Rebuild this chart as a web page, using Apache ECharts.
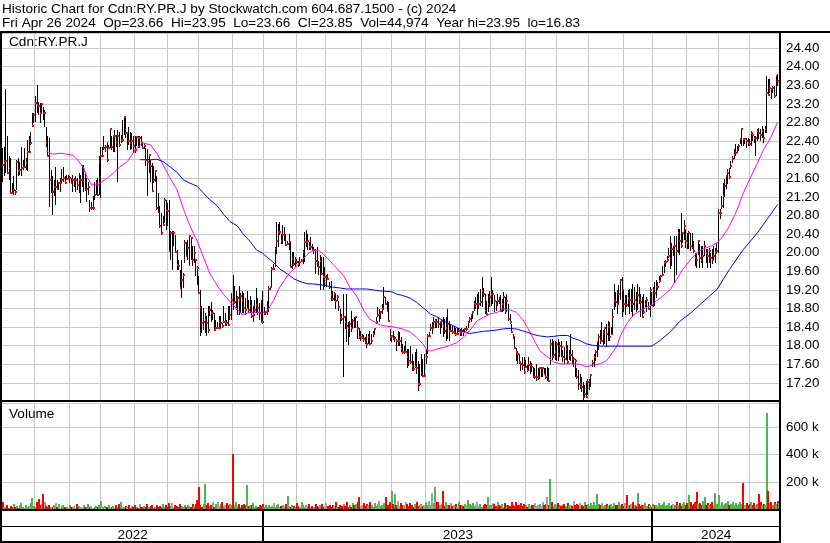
<!DOCTYPE html>
<html><head><meta charset="utf-8">
<script src="https://cdn.jsdelivr.net/npm/echarts@6.0.0/dist/echarts.min.js"></script>
<style>html,body{margin:0;padding:0;background:#fff}#c{width:830px;height:543px}</style>
</head><body><div id="c"></div>
<script>
// ---- data ----
const highs=[
22.25,22.28,23.52,22.50,22.07,22.03,21.49,21.64,21.35,22.00,
22.03,21.96,22.28,22.00,22.25,22.03,22.43,22.50,22.60,23.00,
23.00,23.36,23.61,23.25,23.21,23.21,23.14,23.07,22.71,22.50,
22.46,21.78,21.64,21.57,21.85,21.57,21.53,21.60,21.81,21.85,
21.64,21.67,21.67,21.64,21.60,21.67,21.60,21.64,21.60,21.71,
21.67,21.89,21.89,21.71,21.60,21.53,21.14,21.10,21.21,21.53,
21.57,21.60,22.07,22.28,22.28,22.50,22.32,22.39,22.32,22.68,
22.50,22.50,22.64,22.53,22.64,22.60,22.53,22.86,22.93,22.89,
22.60,22.71,22.60,22.57,22.50,22.50,22.50,22.50,22.50,22.50,
22.36,22.36,22.25,22.22,22.11,22.00,21.93,21.86,21.78,21.64,
21.28,21.00,20.85,20.78,21.18,21.14,21.07,21.14,20.46,20.46,
20.46,20.39,20.06,19.85,19.63,19.85,19.56,20.28,20.24,20.28,
20.35,20.32,20.14,20.14,19.85,19.71,19.49,19.20,18.85,18.81,
18.70,18.63,18.85,18.85,18.95,18.77,18.70,18.56,18.52,18.63,
18.63,18.49,18.85,18.70,18.56,18.85,18.85,19.13,19.53,19.28,
19.17,19.06,19.28,19.13,19.17,19.13,19.03,19.17,18.99,19.06,
18.99,18.85,18.99,19.24,19.03,18.92,18.99,19.18,18.83,18.75,
18.97,19.29,19.29,19.69,19.76,20.12,20.66,20.62,20.66,20.41,
20.59,20.55,20.41,20.26,20.41,20.22,20.01,20.01,19.90,19.87,
19.83,19.90,19.87,20.05,20.44,20.48,20.41,20.23,20.33,20.19,
20.12,20.09,20.12,19.83,19.94,19.90,19.90,19.69,19.51,19.54,
19.37,19.40,19.18,19.15,19.11,19.08,18.97,18.79,18.68,19.11,
18.64,19.11,18.50,18.54,18.75,18.57,18.61,18.64,18.54,18.39,
18.32,18.25,18.22,18.18,18.25,18.25,18.32,18.25,18.32,18.39,
18.61,18.83,18.79,18.75,18.90,19.26,19.04,18.97,18.94,18.36,
18.22,18.32,18.21,18.14,18.32,18.29,18.18,18.04,18.00,18.11,
17.93,17.93,18.00,17.82,17.68,17.86,17.93,17.68,17.60,17.82,
17.72,17.82,17.93,18.25,18.29,18.47,18.50,18.61,18.57,18.57,
18.61,18.54,18.57,18.61,18.57,18.61,18.79,18.54,18.47,18.43,
18.43,18.39,18.39,18.39,18.36,18.39,18.36,18.39,18.43,18.54,
18.61,18.68,18.75,18.97,19.04,19.11,19.15,19.22,19.47,19.25,
19.11,18.97,19.11,19.18,19.47,19.20,19.08,18.97,19.11,19.04,
19.08,19.00,19.15,19.04,19.11,18.90,18.68,18.47,18.25,18.18,
17.96,17.89,17.82,17.60,17.76,17.76,17.69,17.58,17.76,17.68,
17.62,17.54,17.51,17.61,17.51,17.54,17.51,17.54,17.51,17.51,
17.54,17.51,18.15,18.15,18.11,18.11,18.08,18.15,18.08,18.11,
17.90,17.97,18.11,18.01,17.90,18.26,17.90,17.76,17.72,17.51,
17.47,17.40,17.32,17.22,17.15,17.25,17.29,17.29,17.40,17.69,
17.83,17.90,18.11,18.26,18.33,18.50,18.33,18.37,18.47,18.54,
18.50,18.40,18.79,19.33,19.16,19.19,19.30,19.44,19.48,19.19,
19.08,19.08,19.19,19.23,19.23,19.33,19.26,19.16,19.33,19.26,
19.12,19.05,19.12,18.98,19.05,18.94,19.26,19.16,19.26,19.37,
19.42,19.37,19.49,19.53,19.71,19.82,19.85,19.92,20.11,20.36,
20.21,20.14,20.36,20.36,20.50,20.50,20.86,20.43,20.71,20.50,
20.43,20.47,20.43,20.43,20.25,20.00,20.00,20.25,20.18,20.14,
20.14,20.25,20.07,20.07,20.11,20.00,20.07,20.14,20.11,20.21,
20.93,20.93,21.21,21.50,21.58,21.68,21.79,21.83,21.97,22.08,
22.22,22.33,22.29,22.33,22.47,22.69,22.47,22.47,22.47,22.47,
22.44,22.62,22.58,22.51,22.51,22.65,22.69,22.65,22.72,22.65,
22.72,23.80,23.73,23.73,23.55,23.59,23.59,23.80,23.84,23.95];
const lows=[
21.53,21.64,21.71,21.71,21.57,21.28,21.28,21.24,21.24,21.35,
21.64,21.67,21.64,21.78,21.82,21.78,21.75,22.17,22.32,22.73,
22.78,22.82,23.00,22.96,22.78,23.00,22.86,22.71,22.28,22.07,
20.99,21.28,20.81,21.21,21.03,21.35,21.35,21.31,21.49,21.53,
21.49,21.57,21.57,21.49,21.49,21.31,21.42,21.31,21.35,21.28,
21.06,21.42,21.31,21.35,21.10,21.24,20.88,20.92,20.92,21.14,
21.24,21.21,21.24,21.17,22.07,22.21,22.17,21.96,22.25,22.25,
22.21,22.17,22.17,22.28,21.53,22.28,22.35,22.39,22.53,22.46,
22.21,22.32,22.21,22.22,22.14,22.14,22.29,22.25,22.25,22.29,
22.22,22.22,21.86,21.21,21.71,21.53,21.32,21.50,21.53,20.92,
20.85,20.53,20.39,20.57,20.64,20.49,20.57,20.03,19.85,19.63,
20.14,19.99,19.63,19.63,19.24,19.03,19.24,19.78,19.92,19.85,
19.71,19.85,19.71,19.78,19.49,19.31,19.13,18.20,18.27,18.34,
18.27,18.20,18.27,18.63,18.52,18.56,18.34,18.38,18.38,18.38,
18.38,18.38,18.52,18.42,18.42,18.45,18.56,18.56,18.77,18.92,
18.77,18.67,18.67,18.70,18.70,18.70,18.67,18.81,18.70,18.70,
18.59,18.52,18.70,18.70,18.67,18.56,18.52,18.47,18.65,18.65,
18.65,18.72,19.20,19.29,19.62,19.69,19.98,20.12,20.38,20.19,
20.19,20.26,20.16,20.16,20.05,19.69,19.66,19.72,19.69,19.76,
19.69,19.72,19.80,19.76,19.80,20.12,20.05,20.05,20.05,20.05,
19.98,19.54,19.69,19.51,19.19,19.51,19.19,19.26,19.26,19.44,
19.22,18.97,18.97,18.97,18.80,18.97,18.75,18.47,18.54,17.32,
18.36,18.08,18.01,18.18,18.30,18.39,18.39,18.39,18.15,18.15,
18.11,18.15,18.08,18.04,17.96,18.04,18.04,18.04,18.18,18.25,
18.47,18.61,18.50,18.57,18.68,18.79,18.90,18.72,18.50,18.11,
18.08,18.14,18.07,17.89,18.00,18.00,17.86,17.82,17.82,17.86,
17.53,17.57,17.60,17.46,17.46,17.53,17.39,17.03,17.14,17.35,
17.32,17.32,17.60,17.82,18.18,18.32,18.25,18.39,18.39,18.39,
18.39,18.25,18.39,18.18,18.25,18.11,18.14,18.11,18.29,18.25,
18.25,18.21,18.25,18.29,18.21,18.21,18.21,18.29,18.32,18.39,
18.50,18.50,18.57,18.75,18.79,18.65,18.79,18.86,18.83,19.04,
18.68,18.68,18.72,18.83,18.86,18.90,18.72,18.75,18.86,18.90,
18.72,18.72,18.75,18.68,18.75,18.54,18.47,18.29,18.14,17.93,
17.68,17.60,17.60,17.46,17.47,17.40,17.54,17.43,17.47,17.40,
17.43,17.33,17.29,17.25,17.27,17.29,17.33,17.33,17.40,17.29,
17.25,17.22,17.58,17.69,17.76,17.69,17.68,17.68,17.76,17.76,
17.66,17.61,17.69,17.61,17.69,17.68,17.61,17.54,17.32,17.29,
17.04,17.07,17.01,16.83,16.90,16.88,16.93,17.04,17.11,17.54,
17.54,17.68,17.76,17.90,18.04,18.08,18.01,18.04,17.97,18.11,
18.11,18.25,18.26,18.77,18.83,18.69,18.90,18.98,18.62,18.73,
18.66,18.83,18.83,18.69,18.73,18.62,18.77,18.73,18.77,18.90,
18.62,18.62,18.69,18.83,18.73,18.77,18.62,18.87,18.84,18.85,
19.03,19.20,19.35,19.42,19.49,19.57,19.69,19.80,19.89,19.64,
19.71,19.92,19.35,19.52,20.00,19.94,20.11,20.21,20.28,20.11,
20.07,20.07,20.04,20.07,20.00,19.71,19.68,19.94,19.68,19.78,
19.68,19.92,19.78,19.68,19.78,19.68,19.75,19.85,19.78,20.00,
20.00,20.72,20.93,20.96,21.20,21.36,21.47,21.58,21.79,21.93,
22.01,22.08,22.15,22.19,22.33,22.29,22.29,22.33,22.26,22.29,
22.29,22.29,22.40,22.37,22.08,22.40,22.44,22.40,22.47,22.37,
22.58,22.58,23.37,23.44,23.30,23.44,23.33,23.37,23.59,23.66];
const closes=[
21.89,21.92,21.98,21.72,21.82,21.29,21.28,21.35,21.30,21.96,
21.75,21.77,21.82,21.84,21.84,21.92,22.17,22.17,22.35,22.73,
22.96,23.21,23.18,23.16,23.00,23.19,23.00,23.00,22.35,22.08,
21.57,21.57,21.31,21.42,21.42,21.38,21.49,21.49,21.57,21.60,
21.50,21.59,21.59,21.60,21.50,21.57,21.57,21.57,21.46,21.57,
21.57,21.57,21.75,21.35,21.38,21.41,20.96,20.96,20.96,21.24,
21.49,21.24,21.96,22.07,22.07,22.25,22.28,21.99,22.25,22.66,
22.28,22.50,22.50,22.39,22.50,22.32,22.43,22.43,22.91,22.57,
22.57,22.40,22.39,22.40,22.30,22.20,22.49,22.47,22.47,22.36,
22.25,22.29,22.00,21.96,22.11,21.86,21.32,21.57,21.75,20.96,
20.87,20.57,20.42,20.60,21.14,20.92,20.89,20.03,20.42,20.42,
20.42,20.01,19.74,19.71,19.24,19.42,19.53,20.21,19.92,20.10,
20.35,20.32,19.85,19.99,19.85,19.67,19.13,18.81,18.49,18.52,
18.56,18.49,18.34,18.77,18.70,18.70,18.34,18.38,18.38,18.38,
18.49,18.42,18.52,18.52,18.49,18.45,18.67,18.99,18.92,18.95,
18.99,19.03,18.99,19.06,18.99,18.81,18.77,18.81,18.77,18.85,
18.63,18.67,18.77,18.88,18.81,18.70,18.52,18.50,18.68,18.72,
18.75,19.22,19.26,19.66,19.66,20.09,20.26,20.45,20.45,20.26,
20.38,20.38,20.16,20.19,20.22,19.69,19.86,19.76,19.83,19.80,
19.76,19.80,19.83,20.02,20.23,20.23,20.26,20.12,20.12,20.05,
20.05,19.83,19.80,19.69,19.83,19.55,19.47,19.47,19.47,19.44,
19.26,19.08,19.01,19.11,18.97,19.04,18.83,18.61,18.57,18.61,
18.50,18.43,18.39,18.47,18.39,18.54,18.50,18.61,18.39,18.18,
18.18,18.18,18.15,18.08,18.04,18.18,18.04,18.11,18.25,18.36,
18.50,18.65,18.65,18.72,18.79,19.04,18.90,18.75,18.54,18.18,
18.20,18.14,18.16,18.11,18.11,18.11,17.93,17.86,17.86,17.86,
17.75,17.68,17.64,17.57,17.50,17.57,17.53,17.17,17.17,17.42,
17.35,17.35,17.75,18.21,18.21,18.39,18.39,18.50,18.54,18.50,
18.47,18.50,18.54,18.43,18.32,18.39,18.47,18.32,18.32,18.29,
18.29,18.25,18.25,18.32,18.29,18.32,18.29,18.36,18.36,18.50,
18.57,18.65,18.72,18.90,18.90,18.90,18.90,18.93,19.18,19.11,
18.75,18.68,18.90,19.04,19.11,19.11,18.97,18.90,18.97,18.93,
18.75,18.90,19.04,18.75,18.97,18.57,18.50,18.29,18.18,17.96,
17.86,17.82,17.64,17.60,17.58,17.43,17.54,17.47,17.58,17.58,
17.54,17.33,17.33,17.33,17.33,17.51,17.51,17.51,17.40,17.33,
17.33,17.25,18.04,17.76,17.79,17.86,18.04,17.83,18.00,17.97,
17.76,17.72,17.93,17.65,17.79,17.79,17.72,17.72,17.68,17.33,
17.18,17.18,17.11,16.90,16.97,16.90,17.22,17.25,17.36,17.62,
17.76,17.86,18.08,18.19,18.11,18.11,18.30,18.37,18.26,18.40,
18.19,18.25,18.62,18.98,18.94,18.90,19.12,19.41,19.19,18.90,
18.90,18.87,19.03,18.98,18.98,18.90,18.98,18.94,19.09,19.01,
18.93,18.62,18.73,18.90,18.98,18.80,19.19,18.87,19.20,19.13,
19.26,19.26,19.39,19.49,19.53,19.78,19.80,19.85,19.92,20.14,
20.07,20.07,20.14,20.04,20.43,20.25,20.14,20.43,20.57,20.25,
20.21,20.43,20.14,20.11,20.04,19.89,19.85,20.25,19.89,19.85,
19.92,20.14,20.00,19.92,20.04,19.89,19.85,19.92,20.00,20.04,
20.86,20.86,21.00,21.21,21.43,21.65,21.72,21.62,21.86,22.01,
22.11,22.15,22.22,22.29,22.44,22.65,22.44,22.44,22.40,22.37,
22.33,22.58,22.54,22.47,22.47,22.62,22.58,22.54,22.62,22.47,
22.65,23.44,23.40,23.55,23.51,23.55,23.37,23.80,23.70,23.85];
// volume in thousands of shares
const volumesK=[
49,18,12,30,10,22,15,36,14,20, 11,26,42,16,10,32,14,20,44,84,
24,15,50,77,30,40,112,55,22,14, 32,18,12,26,44,15,38,11,20,28,
12,18,10,30,16,14,24,8,35,20, 15,11,26,14,18,34,12,22,10,16,
20,14,30,58,18,12,25,15,32,11, 14,20,10,26,15,36,52,18,12,22,
16,30,11,20,14,26,18,10,34,15, 12,22,16,38,14,20,28,11,18,30,
15,24,12,34,18,26,14,42,20,45, 16,30,20,12,38,22,14,28,18,32,
24,15,40,20,35,65,163,30,18,36, 184,26,42,22,32,55,18,40,50,24,
34,48,20,30,42,26,38,30,407,32, 50,24,40,18,30,34,26,177,20,26,
32,45,18,24,14,30,20,36,15,26, 18,32,12,22,42,16,26,34,14,20,
30,20,38,93,22,15,32,24,18,42, 20,12,50,26,16,30,20,36,14,24,
18,40,22,14,28,34,16,20,42,20, 26,15,32,22,48,18,12,30,20,36,
24,55,18,32,14,42,26,36,48,88, 22,30,45,20,36,26,55,32,18,42,
24,36,60,20,30,42,85,32,26,55, 135,40,110,30,60,24,42,32,26,55,
34,20,42,26,18,36,55,24,32,40, 22,30,48,26,60,32,116,42,165,50,
48,30,36,130,24,55,32,26,42,20, 30,36,18,48,26,32,22,40,30,65,
34,26,42,20,32,55,24,36,18,30, 40,26,90,32,26,42,36,20,55,30,
24,34,18,42,26,32,20,55,30,22, 55,32,26,42,20,36,30,18,40,24,
32,26,42,20,30,36,24,48,32,40, 90,28,221,48,24,36,26,42,32,20,
30,36,22,42,26,32,20,60,30,36, 26,42,32,24,55,30,36,20,42,32,
48,26,109,36,30,42,24,32,40,20, 30,36,24,42,32,26,55,30,34,24,
42,102,32,26,36,55,30,24,116,40, 20,32,26,42,24,36,30,18,40,26,
32,22,42,26,36,55,24,32,42,20, 30,40,26,55,32,42,24,36,55,30,
42,100,48,26,40,55,123,36,42,30, 60,90,32,42,26,36,55,30,116,40,
100,32,48,26,36,42,60,30,40,55, 32,42,26,36,55,40,193,32,42,26,
36,55,30,42,32,40,107,48,30,36, 26,710,130,42,55,32,48,40,60,45];
// moving averages: [bar index, value]
const maFast=[[28,22.19],[32,22.12],[37,22.14],[41,22.12],[45,22.10],[48,22.00],[52,21.82],[54,21.64],[57,21.46],[61,21.46],[64,21.53],[67,21.60],[71,21.71],[75,21.84],[80,21.96],[83,22.10],[86,22.25],[90,22.36],[95,22.32],[99,22.14],[103,21.89],[107,21.64],[112,21.35],[116,20.95],[120,20.60],[125,20.25],[129,19.90],[133,19.56],[138,19.28],[142,19.10],[146,18.95],[151,18.77],[154,18.67],[159,18.72],[163,18.72],[167,18.70],[170,18.75],[174,18.97],[178,19.26],[183,19.51],[187,19.65],[191,19.79],[196,19.97],[199,20.05],[203,20.05],[206,19.97],[210,19.83],[215,19.65],[219,19.51],[223,19.26],[228,19.04],[232,18.75],[236,18.57],[241,18.47],[244,18.43],[250,18.41],[253,18.39],[257,18.36],[262,18.29],[266,18.18],[270,18.04],[273,17.89],[275,17.89],[279,17.93],[283,17.96],[287,18.00],[292,18.07],[296,18.18],[300,18.32],[305,18.54],[309,18.61],[313,18.68],[318,18.72],[321,18.79],[326,18.77],[330,18.72],[334,18.57],[337,18.40],[341,18.15],[345,17.90],[350,17.76],[354,17.65],[358,17.61],[363,17.61],[366,17.61],[371,17.60],[375,17.55],[379,17.58],[384,17.61],[388,17.68],[392,17.86],[395,18.01],[397,18.22],[401,18.47],[405,18.65],[410,18.76],[414,18.83],[417,18.87],[420,18.96],[424,19.06],[429,19.21],[433,19.42],[437,19.64],[442,19.85],[446,20.00],[450,20.08],[455,20.14],[459,20.21],[463,20.36],[467,20.57],[472,20.93],[476,21.29],[480,21.58],[485,21.93],[489,22.22],[493,22.44],[498,22.81]];
const maSlow=[[88,22.00],[95,22.00],[99,22.01],[103,21.96],[107,21.86],[112,21.73],[116,21.57],[120,21.50],[125,21.43],[129,21.28],[133,21.14],[138,21.00],[142,20.82],[146,20.67],[151,20.57],[154,20.42],[159,20.24],[163,20.06],[167,19.99],[170,19.90],[174,19.79],[178,19.65],[183,19.54],[187,19.44],[191,19.38],[196,19.33],[199,19.33],[204,19.31],[208,19.29],[212,19.26],[217,19.24],[221,19.22],[225,19.22],[230,19.22],[234,19.22],[238,19.20],[242,19.18],[250,19.16],[253,19.11],[257,19.08],[262,19.02],[266,18.93],[270,18.82],[275,18.68],[279,18.62],[283,18.54],[287,18.47],[292,18.39],[296,18.32],[300,18.26],[305,18.29],[309,18.31],[313,18.32],[318,18.34],[321,18.36],[326,18.37],[330,18.36],[334,18.32],[337,18.29],[341,18.24],[345,18.21],[350,18.19],[354,18.20],[358,18.22],[363,18.22],[366,18.17],[371,18.11],[375,18.04],[379,18.01],[384,17.99],[417,17.99],[422,18.10],[429,18.30],[435,18.52],[442,18.70],[448,18.88],[459,19.21],[467,19.64],[476,20.07],[485,20.43],[491,20.71],[498,21.04]];
// trading calendar (TSX holidays excluded)
const firstDay='2022-05-02', lastDay='2024-04-26';
const holidays=['2022-05-23','2022-07-01','2022-08-01','2022-09-05','2022-10-10','2022-12-26','2022-12-27',
'2023-01-02','2023-02-20','2023-04-07','2023-05-22','2023-07-03','2023-08-07','2023-09-04','2023-10-09','2023-12-25','2023-12-26',
'2024-01-01','2024-02-19','2024-03-29'];
const headerLine1='Historic Chart for Cdn:RY.PR.J by Stockwatch.com 604.687.1500 - (c) 2024';
const headerLine2='Fri Apr 26 2024  Op=23.66  Hi=23.95  Lo=23.66  Cl=23.85  Vol=44,974  Year hi=23.95  lo=16.83';
const symbolLabel='Cdn:RY.PR.J';
const volumeLabel='Volume';

// ---- build ----
function tradingDays(){
  const out=[]; const d=new Date(firstDay+'T00:00:00Z'); const end=new Date(lastDay+'T00:00:00Z').getTime();
  while(d.getTime()<=end){const wd=d.getUTCDay();const s=d.toISOString().slice(0,10);
    if(wd>0&&wd<6&&holidays.indexOf(s)<0) out.push(s); d.setUTCDate(d.getUTCDate()+1);}
  return out;
}
const dates=tradingDays();
const monthStart=i=>i>0&&dates[i]&&dates[i].slice(0,7)!==dates[i-1].slice(0,7);
const years=[];
dates.forEach((d,i)=>{const y=d.slice(0,4);if(!years.length||years[years.length-1][2]!==y)years.push([i,i,y]);else years[years.length-1][1]=i;});
const ohlc=highs.map((h,i)=>[i,h,lows[i],closes[i]]);
const volData=volumesK.map((v,i)=>[i,v]);
const FONT='"Liberation Sans", Arial, sans-serif';
const HFONT='13.6px '+FONT;
const GRID='#c8c8c8';
const GREEN='#4cb84c', RED='#ff0000', GRAY='#a0a0a0';

const chart=echarts.init(document.getElementById('c'),null,{renderer:'canvas',width:830,height:543});
const xAx=g=>({type:'category',gridIndex:g,data:dates,boundaryGap:true,axisLine:{show:false},axisTick:{show:false},axisLabel:{show:false},
  splitLine:{show:g<2,interval:(i)=>monthStart(i),lineStyle:{color:GRID,width:1}}});
const blk=(x,y,w,h)=>({type:'rect',shape:{x:x,y:y,width:w,height:h},style:{fill:'#000'},z:100});
const txt=(t,x,y)=>({type:'text',x:x,y:y,style:{text:t,font:HFONT,fill:'#000',textAlign:'left',textVerticalAlign:'middle',verticalAlign:'middle'},z:100});

chart.setOption({
  animation:false,
  backgroundColor:'#fff',
  grid:[
    {left:2,right:50,top:33,height:368.5},
    {left:2,right:50,top:403,height:106},
    {left:2,right:50,top:511,height:31}
  ],
  xAxis:[xAx(0),xAx(1),xAx(2)],
  yAxis:[
    {gridIndex:0,type:'value',position:'right',min:16.8,max:24.725,interval:0.4,
      axisLine:{show:false},axisTick:{show:false},
      axisLabel:{margin:6,color:'#000',fontSize:13.33,fontFamily:FONT,formatter:v=>(v>16.9&&v<24.5)?v.toFixed(2):''},
      splitLine:{lineStyle:{color:GRID,width:1}}},
    {gridIndex:1,type:'value',position:'right',min:0,max:780,interval:200,
      axisLine:{show:false},axisTick:{show:false},
      axisLabel:{margin:6,color:'#000',fontSize:13.33,fontFamily:FONT,formatter:v=>(v>0&&v<700)?(v+' k'):''},
      splitLine:{lineStyle:{color:GRID,width:1}}},
    {gridIndex:2,type:'value',min:0,max:1,show:false}
  ],
  series:[
    {type:'custom',xAxisIndex:0,yAxisIndex:0,data:ohlc,encode:{x:0,y:[1,2,3]},z:3,
      renderItem:(p,api)=>{
        const i=api.value(0);
        const ph=api.coord([i,api.value(1)]),pl=api.coord([i,api.value(2)]),pc=api.coord([i,api.value(3)]);
        const x=Math.round(ph[0]-0.5);
        const y0=Math.round(ph[1]),y1=Math.round(pl[1]);
        return {type:'group',children:[
          {type:'rect',shape:{x:x,y:y0,width:1,height:Math.max(1,y1-y0)},style:{fill:'#000'}},
          {type:'rect',shape:{x:x,y:Math.round(pc[1])-1,width:2,height:2},style:{fill:RED}}
        ]};
      }},
    {type:'line',xAxisIndex:0,yAxisIndex:0,data:maFast,showSymbol:false,symbol:'none',z:4,lineStyle:{color:'#ff00ff',width:1},silent:true},
    {type:'line',xAxisIndex:0,yAxisIndex:0,data:maSlow,showSymbol:false,symbol:'none',z:4,lineStyle:{color:'#0000ff',width:1},silent:true},
    {type:'custom',xAxisIndex:1,yAxisIndex:1,data:volData,encode:{x:0,y:1},z:3,
      renderItem:(p,api)=>{
        const i=api.value(0);
        const pt=api.coord([i,api.value(1)]),pb=api.coord([i,0]);
        const c=i===0?RED:(closes[i]>closes[i-1]?GREEN:(closes[i]<closes[i-1]?RED:GRAY));
        const x=Math.round(pt[0]-1);
        return {type:'rect',shape:{x:x,y:Math.round(pt[1]),width:2,height:Math.max(1,Math.round(pb[1])-Math.round(pt[1]))},style:{fill:c}};
      }},
    {type:'custom',xAxisIndex:2,yAxisIndex:2,data:years,encode:{x:[0,1]},z:5,
      renderItem:(p,api)=>{
        const s=api.value(0),e=api.value(1);
        const bw=api.size([1,0])[0];
        const x0=api.coord([s,0])[0]-bw/2,x1=api.coord([e,0])[0]+bw/2;
        const cs=p.coordSys;
        const ch=[{type:'text',x:(x0+x1)/2,y:cs.y+cs.height*0.77,style:{text:String(years[p.dataIndex][2]),font:HFONT,fill:'#000',textAlign:'center',textVerticalAlign:'middle',verticalAlign:'middle'}}];
        if(s>0) ch.push({type:'rect',shape:{x:Math.round(x0)-1,y:cs.y,width:2,height:cs.height},style:{fill:'#000'}});
        return {type:'group',children:ch};
      }}
  ],
  graphic:[
    txt(headerLine1,2,9.5),
    txt(headerLine2,2,23),
    txt(symbolLabel,9,42),
    txt(volumeLabel,9,414),
    blk(0,31,830,2),
    blk(0,31,2,512),
    blk(779,31,2,512),
    blk(0,400,781,2),
    blk(0,509,781,2),
    blk(0,526,781,1),
    blk(0,541,781,2)
  ]
});
</script></body></html>
